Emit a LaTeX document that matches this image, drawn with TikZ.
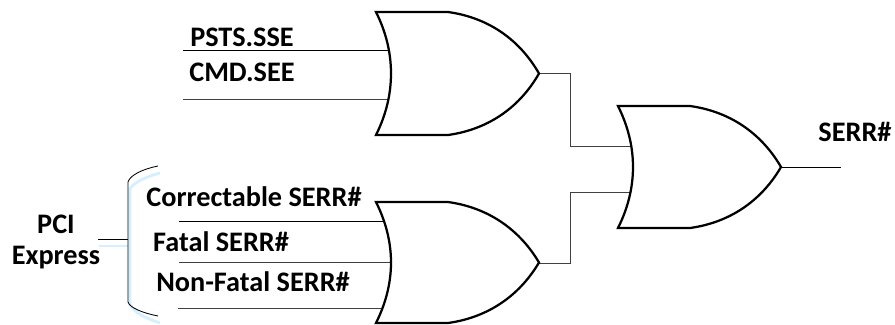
\documentclass[tikz,border=0pt]{standalone}
\usepackage{fontspec}
\setmainfont{Carlito}
\def\orgate(#1,#2)(#3){\begin{scope}[shift={(#1, #2)}]
	\draw[gateline] (0, 0) -- (72, 0) .. controls (115, 6) and (145, 30) .. (163, #3/2) .. controls (145, #3-30) and (115, #3-6) .. (72, #3) -- (0, #3) .. controls (20, #3-40) and (20, 40) .. cycle;
\end{scope}}
\tikzset{
	gateline/.style={line width=1.6pt, black, line join=miter},
	wire/.style={line width=0.6pt, black!75},
	shadowline/.style={line width=2pt, color=blue!40!cyan!16},
	lbl/.style={font=\fontsize{20.1}{22}\selectfont\bfseries, inner sep=0pt, text=black}
}

\begin{document}
\begin{tikzpicture}[x=0.025cm, y=-0.025cm]
	%%%%% START %%%%%
	\useasboundingbox (0, 0) rectangle (895, 324);

	% labels
	\node[lbl] (psts) at (242, 37) {PSTS.SSE};
	\node[lbl] (cmd) at (242, 72) {CMD.SEE};
	\node[lbl] (corr) at (254, 197) {Correctable SERR\#};
	\node[lbl] (fatal) at (221, 242) {Fatal SERR\#};
	\node[lbl] (nonfatal) at (253, 282) {Non-Fatal SERR\#};
	\node[lbl] (pci) at (56, 224) {PCI};
	\node[lbl] (express) at (56, 258) {Express};
	\node[lbl] (serr) at (855, 132) {SERR\#};

	% free ends and pins
	\coordinate (pstsL) at (183, 50);
	\coordinate (pstsR) at (388, 50);
	\coordinate (cmdL) at (183, 99);
	\coordinate (cmdR) at (388, 99);
	\coordinate (corrL) at (179, 221);
	\coordinate (corrR) at (383, 221);
	\coordinate (fatalL) at (179, 262);
	\coordinate (fatalR) at (391, 262);
	\coordinate (nonfatalL) at (178, 308);
	\coordinate (nonfatalR) at (383, 308);
	\coordinate (topTip) at (539, 73);
	\coordinate (lowTip) at (539, 263);
	\coordinate (outIn1) at (630, 146);
	\coordinate (outIn2) at (630, 192);
	\coordinate (outTip) at (782, 167);
	\coordinate (outEnd) at (841, 167);
	\coordinate (braceL) at (98, 239);
	\coordinate (braceM) at (128, 239);

	% brace shadow
	\draw[shadowline] (160, 173) .. controls (145, 177) and (133, 183) .. (130, 189) -- (130, 304) .. controls (133, 312) and (145, 318) .. (160, 323);
	\draw[shadowline] (99, 246) -- (128, 246);

	% brace
	\draw[wire, black] (158, 166) .. controls (143, 169) and (130, 175) .. (128, 182) -- (128, 302) .. controls (130, 308) and (143, 313) .. (158, 316);
	\draw[wire, black] (braceL) -- (braceM);

	% inputs
	\draw[wire, black] (pstsL) -- (pstsR);
	\draw[wire] (cmdL) -- (cmdR);
	\draw[wire, black] (corrL) -- (corrR);
	\draw[wire] (fatalL) -- (fatalR);
	\draw[wire] (nonfatalL) -- (nonfatalR);

	% gate to gate
	\draw[wire] (topTip) -| (570, 146) -- (outIn1);
	\draw[wire] (lowTip) -| (570, 192) -- (outIn2);
	\draw[wire, black] (outTip) -- (outEnd);

	% gates
	\orgate(376, 12)(123)
	\orgate(376, 202)(121)
	\orgate(618, 106)(122)
	%%%%% END %%%%%
\end{tikzpicture}
\end{document}
